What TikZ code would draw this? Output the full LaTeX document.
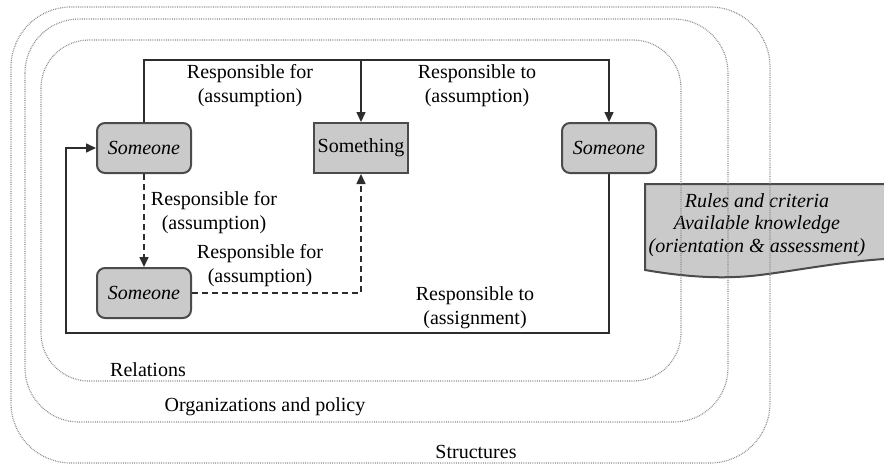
\documentclass[tikz,border=0pt]{standalone}
\usepackage{fontspec}
\setmainfont{Liberation Serif}
\usetikzlibrary{arrows.meta}

\definecolor{boxgray}{RGB}{202,202,202}
\definecolor{edgegray}{RGB}{75,75,75}
\definecolor{linegray}{RGB}{45,45,45}
\definecolor{dotgray}{RGB}{140,140,140}

\begin{document}
\begin{tikzpicture}[x=0.5pt,y=-0.5pt,
  font=\fontsize{10}{12}\selectfont,
  who/.style={draw=edgegray,line width=1pt,fill=boxgray,rounded corners=4pt,
    minimum width=47pt,minimum height=25pt,inner sep=0pt,font=\fontsize{10}{12}\selectfont\itshape},
  thing/.style={draw=edgegray,line width=1pt,fill=boxgray,
    minimum width=47pt,minimum height=25pt,inner sep=0pt},
  conn/.style={draw=linegray,line width=0.8pt,-{Triangle[length=5pt,width=4.5pt]}},
  dconn/.style={conn,dash pattern=on 3pt off 2pt},
  lbl/.style={align=center,inner sep=0pt},
  region/.style={draw=dotgray,line width=0.6pt,dash pattern=on 0.4pt off 0.5pt}]
\useasboundingbox (0,0) rectangle (884,466);

% rules and knowledge
\fill[boxgray] (645,184) -- (884,184) -- (884,259)
  .. controls (840,262) and (800,270) .. (760,275)
  .. controls (720,280) and (680,276) .. (645,270) -- cycle;
\draw[edgegray,line width=1pt] (884,184) -- (645,184) -- (645,270)
  .. controls (680,276) and (720,280) .. (760,275)
  .. controls (800,270) and (840,262) .. (884,259);
\node[lbl,font=\fontsize{10}{11.3}\selectfont\itshape] (rules) at (757,225)
  {Rules and criteria\\Available knowledge\\(orientation \& assessment)};

% layers
\draw[region,rounded corners=30pt] (11,7) rectangle (770,463);
\draw[region,rounded corners=27pt] (25,19) rectangle (728,422);
\draw[region,rounded corners=24pt] (41,40) rectangle (681,381);
\node[lbl] (rel) at (148,370) {Relations};
\node[lbl] (org) at (265,407) {Organizations and policy};
\node[lbl] (str) at (476,452) {Structures};

% actors
\node[who] (s1) at (144,148) {Someone};
\node[thing] (s2) at (361,148) {Something};
\node[who] (s3) at (609,148) {Someone};
\node[who] (s4) at (144,293) {Someone};

\coordinate (tl) at (144,60);
\coordinate (tm) at (361,60);
\coordinate (tr) at (609,60);
\coordinate (br) at (609,333);
\coordinate (bl) at (66,333);
\coordinate (lm) at (66,148);

\draw[conn] (s1.north) -- (tl) -- (tr) -- (s3.north);
\draw[conn] (tm) -- (s2.north);
\draw[conn] (s3.south) -- (br) -- (bl) -- (lm) -- (s1.west);
\draw[dconn] (s1.south) -- (s4.north);
\draw[dconn] (s4.east) -| (s2.south);

\node[lbl] (l1) at (250,86) {Responsible for\\(assumption)};
\node[lbl] (l2) at (477,86) {Responsible to\\(assumption)};
\node[lbl] (l3) at (214,213) {Responsible for\\(assumption)};
\node[lbl] (l4) at (260,266) {Responsible for\\(assumption)};
\node[lbl] (l5) at (475,308) {Responsible to\\(assignment)};
\end{tikzpicture}
\end{document}
